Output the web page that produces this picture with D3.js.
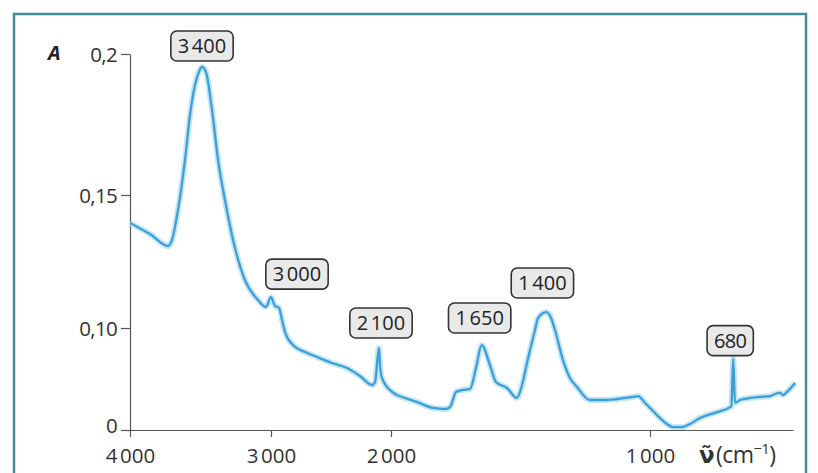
<!DOCTYPE html>
<html><head><meta charset="utf-8">
<script src="https://cdn.jsdelivr.net/npm/d3@7"></script>
<style>
html,body{margin:0;padding:0;background:#fff;}
svg{display:block;font-family:"Open Sans","Noto Sans",sans-serif;}
</style></head><body>
<svg id="chart" width="818" height="473"></svg>
<script>
// IR spectrum: absorbance A against wavenumber (cm-1)
const wavenumbers = [4000,3833,3683,3650,3600,3542,3500,3458,3425,3400,3377,3342,3307,3267,3220,3151,3075,3029,3000,2967,
  2933,2908,2883,2817,2717,2617,2492,2367,2258,2158,2133,2100,2092,2075,1996,1946,1900,1838,1792,1772,
  1749,1726,1695,1672,1650,1618,1595,1552,1514,1494,1475,1444,1432,1400,1382,1367,1336,1309,1282,1232,
  1174,1127,1066,1046,1019,992,962,935,912,877,846,808,742,692,687,680,673,654,615,577,538,519,500,488,473,442];
const absorbance = [0.1395,0.1353,0.1308,0.1331,0.1444,0.1624,0.1784,0.1891,0.1937,0.1954,0.1936,0.1802,0.1624,0.1481,0.1331,0.1180,0.1105,0.1079,0.1116,0.1083,
  0.1075,0.1030,0.0961,0.0833,0.0765,0.0716,0.0657,0.0608,0.0529,0.0441,0.0471,0.0804,0.0637,0.0510,0.0373,0.0314,0.0275,0.0216,0.0206,0.0225,
  0.0373,0.0392,0.0402,0.0608,0.0833,0.0637,0.0471,0.0412,0.0314,0.0441,0.0657,0.0980,0.1038,0.1060,0.1038,0.0980,0.0686,0.0510,0.0422,0.0294,
  0.0294,0.0304,0.0324,0.0333,0.0265,0.0196,0.0118,0.0059,0.0029,0.0029,0.0059,0.0118,0.0176,0.0225,0.0235,0.0700,0.0265,0.0294,0.0314,0.0324,0.0333,0.0353,0.0363,0.0343,0.0373,0.0461];

// annotated bands
const peakWavenumbers = [3400,3000,2100,1650,1400,680];
const peakTexts = ["3\u202F400","3\u202F000","2\u202F100","1\u202F650","1\u202F400","680"];

// axis ticks
const xTicks = [4000,3000,2000,1000];
const xTickLabels = ["4\u202F000","3\u202F000","2\u202F000","1\u202F000"];
const yTicks = [0,0.10,0.15,0.2];
const yTickLabels = ["0","0,10","0,15","0,2"];

// axis graduation stops (the printed axes are not uniform)
const xStops = [4000,3400,3000,2000,1000,450];
const yStops = [0,0.10,0.15,0.2];

const svg = d3.select("#chart");

// frame
svg.append("rect").attr("x",14).attr("y",14).attr("width",792).attr("height",480)
  .attr("fill","#fff").attr("stroke","#3f8f99").attr("stroke-width",2.5);

const x = d3.scaleLinear().domain(xStops).range([130,202,271,391,650,793]);
const y = d3.scaleLinear().domain(yStops).range([430,328,195,54]);

const axisColor = "#555";
const tickFont = 20.5;

// y axis
const gy = svg.append("g").attr("transform","translate(130,0)")
  .call(d3.axisLeft(y).tickValues(yTicks).tickFormat((d,i)=>yTickLabels[i]).tickSize(9).tickSizeOuter(0).tickPadding(4));
// x axis
const gx = svg.append("g").attr("transform","translate(0,430)")
  .call(d3.axisBottom(x).tickValues(xTicks).tickFormat((d,i)=>xTickLabels[i]).tickSize(7).tickSizeOuter(0).tickPadding(11));

[gx,gy].forEach(g=>{
  g.select(".domain").attr("stroke",axisColor).attr("stroke-width",1.2);
  g.selectAll(".tick line").attr("stroke",axisColor).attr("stroke-width",1.2);
  g.selectAll(".tick text").attr("fill","#333").attr("font-size",tickFont)
    .attr("font-family","'Open Sans',sans-serif").attr("letter-spacing",-0.7);
});
// y labels centred on their ticks; the zero label sits a touch higher, clear of the x labels
gy.selectAll(".tick text").attr("dy",d=>d===0 ? "0.1em" : "0.35em");

// axis titles
svg.append("text").attr("x",48).attr("y",60).text("A")
  .attr("font-size",20).attr("font-weight","bold").attr("font-style","italic").attr("fill","#222");

const unit = svg.append("text").attr("x",699).attr("y",463).attr("font-size",23).attr("fill","#333").attr("letter-spacing",-0.6);
unit.append("tspan").attr("font-weight","bold").attr("font-family","'DejaVu Sans',sans-serif").text("\u03BD\u0303");
unit.append("tspan").attr("dx",2).text("(cm");
unit.append("tspan").attr("dy",-9).attr("font-size",15).text("\u22121");
unit.append("tspan").attr("dy",9).text(")");

// spectrum curve
const pts = wavenumbers.map((w,i)=>[w,absorbance[i]]);
const line = d3.line().x(d=>x(d[0])).y(d=>y(d[1])).curve(d3.curveMonotoneX);
svg.append("path").attr("d",line(pts)).attr("fill","none")
  .attr("stroke","#b8e0f4").attr("stroke-width",6).attr("stroke-linejoin","round").attr("opacity",0.8);
svg.append("path").attr("d",line(pts)).attr("fill","none")
  .attr("stroke","#3d9fd8").attr("stroke-width",2.3).attr("stroke-linejoin","round");

// band labels: offsets of each box relative to its band's peak
const labelShift = {3400:[0,-21],3000:[26,-23],2100:[2,-25],1650:[-2,-27],1400:[-4,-29],680:[-3,-18]};
peakWavenumbers.forEach((w,i)=>{
  const a = absorbance[wavenumbers.indexOf(w)];
  const [dx,dy] = labelShift[w];
  const cx = x(w)+dx, cy = y(a)+dy;
  const g = svg.append("g").attr("transform",`translate(${cx},${cy})`);
  const rect = g.append("rect");
  const t = g.append("text").attr("text-anchor","middle").attr("dy","0.35em")
    .attr("font-size",20).attr("fill","#222").attr("letter-spacing",-0.7).text(peakTexts[i]);
  const tw = t.node().getComputedTextLength();
  const bw = tw+14, bh = 30;
  rect.attr("x",-bw/2).attr("y",-bh/2).attr("width",bw).attr("height",bh).attr("rx",6)
    .attr("fill","#e9e9e9").attr("stroke","#333").attr("stroke-width",1.6);
});
</script>
</body></html>
